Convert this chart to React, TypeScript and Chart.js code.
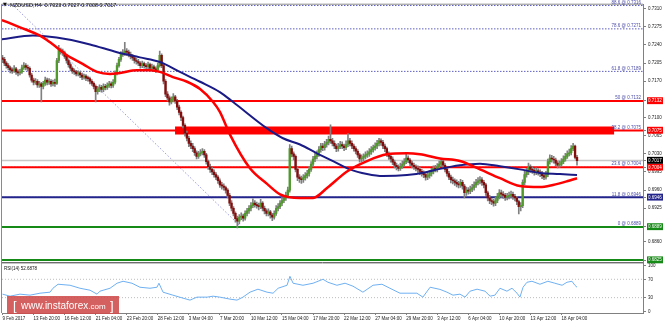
import React, { useEffect, useRef } from "react";
import { Chart, registerables } from "chart.js";

Chart.register(...registerables);

// ---------------- data ----------------
const xTickIdx = [0, 16, 32, 48, 64, 80, 96, 112, 128, 144, 160, 176, 192, 208, 224, 240, 256, 272, 288];
const xTickLabels = [
  "9 Feb 2017", "13 Feb 20:00", "16 Feb 12:00", "21 Feb 04:00", "23 Feb 20:00", "28 Feb 12:00",
  "3 Mar 04:00", "7 Mar 20:00", "10 Mar 12:00", "15 Mar 04:00", "17 Mar 20:00", "22 Mar 12:00",
  "27 Mar 04:00", "29 Mar 20:00", "3 Apr 12:00", "6 Apr 04:00", "10 Apr 20:00", "13 Apr 12:00", "18 Apr 04:00",
];

// H4 candles, prices in 1/10000
const opens = [
  7215,7212,7205,7200,7196,7192,7190,7194,7188,7186,
  7188,7196,7200,7197,7195,7182,7172,7168,7170,7163,
  7165,7160,7166,7172,7168,7170,7165,7168,7166,7210,
  7230,7228,7225,7218,7210,7202,7195,7190,7188,7184,
  7186,7182,7178,7180,7176,7175,7170,7166,7160,7150,
  7155,7158,7154,7160,7158,7162,7165,7162,7168,7185,
  7200,7212,7222,7225,7228,7226,7222,7218,7215,7210,
  7208,7205,7200,7204,7200,7198,7202,7195,7198,7194,
  7192,7200,7220,7200,7170,7145,7138,7130,7135,7140,
  7132,7120,7110,7100,7085,7070,7060,7050,7045,7040,
  7032,7025,7030,7032,7035,7028,7015,7005,7000,6995,
  6990,6985,6978,6970,6968,6965,6960,6950,6935,6925,
  6915,6905,6900,6908,6910,6906,6915,6920,6925,6930,
  6935,6932,6930,6928,6935,6925,6920,6915,6918,6912,
  6908,6915,6925,6928,6935,6940,6945,6950,6960,7040,
  7030,7025,7000,6985,6982,6980,6984,6988,6992,7000,
  7010,7020,7025,7030,7038,7045,7042,7048,7052,7058,
  7055,7050,7045,7040,7044,7048,7045,7042,7048,7055,
  7050,7045,7040,7035,7028,7020,7022,7025,7028,7030,
  7034,7038,7042,7045,7050,7055,7052,7045,7040,7030,
  7025,7020,7014,7008,7005,7002,7006,7010,7015,7022,
  7018,7012,7008,7005,7002,7000,6996,6993,6990,6985,
  6988,6992,6996,7002,7000,7005,7010,7015,7008,7000,
  6992,6985,6980,6978,6975,6972,6970,6975,6968,6955,
  6960,6958,6962,6965,6970,6975,6978,6980,6975,6970,
  6955,6945,6940,6938,6935,6940,6948,6955,6952,6950,
  6946,6948,6950,6952,6948,6945,6938,6928,6930,6975,
  6990,6995,7005,7000,6998,6995,6997,6995,6992,6988,
  6985,6990,7015,7022,7020,7018,7012,7008,7010,7015,
  7020,7025,7030,7032,7040,7045,7023,
];
const highs = [
  7220,7216,7208,7204,7199,7196,7200,7197,7192,7193,
  7201,7206,7204,7201,7198,7185,7176,7175,7173,7170,
  7168,7170,7178,7176,7175,7173,7172,7174,7214,7239,
  7234,7232,7228,7222,7213,7206,7198,7194,7191,7190,
  7189,7185,7184,7183,7180,7178,7173,7169,7163,7160,
  7163,7162,7165,7164,7167,7170,7169,7173,7190,7205,
  7216,7227,7231,7245,7233,7230,7226,7222,7218,7214,
  7212,7208,7209,7207,7204,7207,7205,7203,7201,7198,
  7205,7228,7223,7203,7173,7150,7142,7140,7146,7143,
  7135,7124,7113,7103,7088,7074,7064,7055,7050,7044,
  7036,7035,7038,7040,7038,7031,7018,7010,7004,6999,
  6994,6988,6982,6975,6972,6968,6963,6954,6940,6928,
  6918,6910,6913,6916,6914,6920,6925,6930,6936,6943,
  6940,6937,6935,6942,6938,6929,6924,6924,6921,6915,
  6920,6930,6934,6940,6946,6950,6956,6966,7048,7045,
  7034,7028,7004,6990,6987,6990,6994,6998,7006,7015,
  7025,7031,7036,7044,7050,7050,7054,7058,7064,7086,
  7060,7055,7049,7050,7054,7053,7049,7055,7069,7060,
  7055,7049,7044,7038,7031,7028,7030,7034,7036,7040,
  7044,7047,7051,7056,7060,7059,7056,7049,7043,7034,
  7029,7024,7018,7012,7009,7012,7016,7021,7030,7026,
  7021,7016,7012,7009,7007,7004,7000,6997,6994,6993,
  6998,7002,7007,7008,7011,7016,7021,7019,7011,7004,
  6996,6989,6985,6982,6980,6977,6981,6979,6971,6966,
  6965,6968,6971,6976,6981,6984,6986,6984,6979,6973,
  6958,6950,6944,6942,6946,6954,6961,6960,6957,6954,
  6954,6956,6958,6956,6952,6948,6941,6936,6980,6996,
  7002,7012,7009,7005,7002,7003,7001,6999,6996,6993,
  6996,7020,7028,7027,7025,7022,7016,7016,7021,7026,
  7031,7036,7039,7046,7050,7047,7027,
];
const lows = [
  7206,7200,7195,7192,7186,7185,7187,7183,7180,7182,
  7185,7193,7192,7190,7178,7168,7163,7164,7158,7158,
  7130,7155,7162,7163,7164,7160,7161,7160,7164,7206,
  7222,7220,7214,7205,7197,7190,7185,7183,7180,7180,
  7177,7173,7174,7171,7170,7165,7162,7155,7130,7145,
  7150,7149,7150,7153,7154,7158,7157,7158,7165,7182,
  7197,7208,7218,7220,7220,7217,7213,7210,7205,7203,
  7200,7195,7196,7195,7193,7194,7190,7191,7189,7187,
  7189,7197,7196,7165,7140,7132,7124,7126,7130,7127,
  7115,7105,7094,7080,7064,7055,7044,7040,7034,7027,
  7020,7021,7026,7028,7023,7010,7000,6994,6990,6985,
  6980,6973,6965,6962,6960,6954,6945,6930,6920,6910,
  6898,6887,6895,6903,6900,6902,6910,6915,6920,6926,
  6927,6925,6922,6924,6920,6914,6910,6910,6906,6901,
  6904,6911,6920,6924,6930,6936,6940,6946,6956,7024,
  7018,6995,6978,6975,6973,6975,6979,6983,6987,6996,
  7005,7015,7020,7025,7033,7036,7037,7043,7047,7050,
  7045,7040,7034,7035,7040,7040,7036,7038,7044,7045,
  7040,7035,7030,7023,7014,7015,7017,7020,7023,7025,
  7029,7033,7037,7040,7045,7046,7040,7034,7025,7019,
  7014,7009,7003,6999,6997,6998,7002,7006,7011,7013,
  7007,7003,7000,6997,6994,6990,6987,6984,6979,6980,
  6983,6987,6991,6995,6995,7000,7005,7003,6995,6987,
  6980,6974,6972,6969,6966,6964,6965,6962,6945,6950,
  6952,6953,6957,6960,6965,6970,6972,6969,6964,6950,
  6939,6934,6932,6929,6930,6936,6943,6946,6944,6940,
  6941,6943,6945,6942,6939,6932,6914,6920,6926,6970,
  6985,6990,6994,6992,6989,6990,6989,6986,6982,6980,
  6981,6986,7010,7014,7012,7007,7003,7004,7006,7011,
  7016,7021,7026,7028,7036,7020,7008,
];
const closes = [
  7212,7205,7200,7196,7192,7190,7194,7188,7186,7188,
  7196,7200,7197,7195,7182,7172,7168,7170,7163,7165,
  7160,7166,7172,7168,7170,7165,7168,7166,7210,7230,
  7228,7225,7218,7210,7202,7195,7190,7188,7184,7186,
  7182,7178,7180,7176,7175,7170,7166,7160,7150,7155,
  7158,7154,7160,7158,7162,7165,7162,7168,7185,7200,
  7212,7222,7225,7228,7226,7222,7218,7215,7210,7208,
  7205,7200,7204,7200,7198,7202,7195,7198,7194,7192,
  7200,7220,7200,7170,7145,7138,7130,7135,7140,7132,
  7120,7110,7100,7085,7070,7060,7050,7045,7040,7032,
  7025,7030,7032,7035,7028,7015,7005,7000,6995,6990,
  6985,6978,6970,6968,6965,6960,6950,6935,6925,6915,
  6905,6900,6908,6910,6906,6915,6920,6925,6930,6935,
  6932,6930,6928,6935,6925,6920,6915,6918,6912,6908,
  6915,6925,6928,6935,6940,6945,6950,6960,7040,7030,
  7025,7000,6985,6982,6980,6984,6988,6992,7000,7010,
  7020,7025,7030,7038,7045,7042,7048,7052,7058,7055,
  7050,7045,7040,7044,7048,7045,7042,7048,7055,7050,
  7045,7040,7035,7028,7020,7022,7025,7028,7030,7034,
  7038,7042,7045,7050,7055,7052,7045,7040,7030,7025,
  7020,7014,7008,7005,7002,7006,7010,7015,7022,7018,
  7012,7008,7005,7002,7000,6996,6993,6990,6985,6988,
  6992,6996,7002,7000,7005,7010,7015,7008,7000,6992,
  6985,6980,6978,6975,6972,6970,6975,6968,6955,6960,
  6958,6962,6965,6970,6975,6978,6980,6975,6970,6955,
  6945,6940,6938,6935,6940,6948,6955,6952,6950,6946,
  6948,6950,6952,6948,6945,6938,6928,6930,6975,6990,
  6995,7005,7000,6998,6995,6997,6995,6992,6988,6985,
  6990,7015,7022,7020,7018,7012,7008,7010,7015,7020,
  7025,7030,7032,7040,7045,7023,7017,
];

// moving averages (bar index, price in 1/10000)
const maRedX = [-0.3, 9, 19.3, 24.5, 33.2, 41.5, 48.7, 55.4, 60.5, 69.3, 76, 81.1, 87.8, 95.1, 101.8, 108.5, 112, 117.2, 127.5, 136.3, 143, 153.3, 160, 167.2, 177.5, 187.8, 198.1, 208.4, 215.1, 225.4, 235.7, 246, 256.3, 266.6, 276.9, 283.6, 290.8, 296];
const maRedY = [7288, 7274, 7258, 7245, 7220, 7203, 7188, 7184, 7186, 7191, 7191, 7188, 7178, 7169, 7155, 7130, 7111, 7067, 7002, 6972, 6952, 6945, 6945, 6964, 6996, 7016, 7029, 7031, 7029, 7021, 7016, 7000, 6983, 6968, 6966, 6970, 6977, 6983];
const maNavyX = [-0.3, 15.7, 33.2, 45.1, 59, 70.8, 81.1, 91.4, 101.8, 112, 118.8, 136.3, 144.5, 153.3, 162, 170.3, 179, 187.8, 196, 208.4, 218.7, 225.4, 235.7, 246, 256.3, 266.6, 276.9, 287.2, 296];
const maNavyY = [7251, 7258, 7251, 7241, 7226, 7216, 7207, 7188, 7169, 7149, 7130, 7079, 7060, 7048, 7031, 7016, 7000, 6991, 6987, 6989, 6995, 7001, 7008, 7011, 7006, 7000, 6993, 6991, 6989];

// RSI(14)
const rsiX = [0, 3.9, 9, 14.2, 19.3, 24.5, 26, 28.6, 34.8, 39.9, 45.1, 48.7, 50.2, 55.4, 59, 62.1, 66.7, 70.8, 76, 79.6, 80.6, 82.7, 87.8, 93, 96.6, 100.2, 105.4, 108.5, 112, 117.2, 120.8, 123.9, 127.5, 131.6, 136.3, 139.4, 142, 146.6, 148.1, 149.7, 154.8, 160, 165.1, 167.7, 172.3, 176.5, 180.6, 185.7, 190.9, 195.5, 199.6, 204.8, 208.9, 213.5, 216.6, 220.3, 225.4, 229, 232.1, 235.7, 238.3, 240.9, 244.5, 248.6, 251.2, 253.7, 256.3, 259.9, 262.5, 265.1, 266.6, 268.2, 270.2, 272.8, 276.9, 281, 284.6, 288.3, 290.8, 293.4, 294.9, 296];
const rsiY = [37.6, 33.2, 37.6, 35.4, 39.7, 41.9, 50.5, 59.2, 57.0, 50.5, 46.2, 37.6, 44.1, 50.5, 61.4, 65.7, 61.4, 52.7, 50.5, 52.7, 61.4, 41.9, 35.4, 28.9, 24.6, 31.1, 31.1, 33.2, 31.1, 26.8, 24.6, 31.1, 41.9, 48.4, 41.9, 39.7, 50.5, 57, 76.5, 61.4, 57, 61.4, 70, 63.5, 57, 61.4, 54.9, 41.9, 57, 59.2, 50.5, 39.7, 39.7, 39.7, 31.1, 52.7, 48, 41.9, 35.4, 37.6, 31.1, 44.1, 48.4, 44.1, 33.2, 35.4, 50.5, 44.1, 50.5, 39.7, 31.1, 52.7, 63.5, 65.7, 59.2, 65.7, 61.4, 57, 63.5, 65.7, 57, 52.7];
const rsiTicks = [0, 30, 70, 100];
const rsiLevels = [70, 30];

// price axis
const priceTicks = [0.7310, 0.7275, 0.7240, 0.7205, 0.7170, 0.7100, 0.7065, 0.7030, 0.6995, 0.6960, 0.6925, 0.6860];
const levelPrices = [0.7132, 0.7075, 0.7017, 0.7004, 0.6946, 0.6889, 0.6825];

// fibonacci retracement
const fibPcts = [88.6, 78.6, 61.8, 50, 38.2, 23.6, 11.8, 0];
const fibPrices = [0.7316, 0.7271, 0.7189, 0.7132, 0.7075, 0.7004, 0.6946, 0.6889];
const fibAnchorX = [-10.6, 122.9];
const fibAnchorY = [0.7375, 0.6889];

// resistance zone
const zoneX = [88.9, 315.1];
const zonePrice = 0.7075;

const headerText = "NZDUSD,H4  0.7023 0.7027 0.7008 0.7017";
const rsiTitle = "RSI(14) 52.6878";

// ---------------- styles ----------------
const X_MIN = -0.26;
const X_MAX = 330;
const Y_MIN = 0.68205;
const Y_MAX = 0.73176;
const RSI_MIN = -3.46;
const RSI_MAX = 106.7;
const FONT = '"Liberation Sans", Arial, sans-serif';
const LEVEL_LINE = ["#ff0000", "#ff0000", "#c8c8c8", "#ff0000", "#23238c", "#168a16", "#168a16"];
const LEVEL_BG = ["#ff0000", "#ff0000", "#000000", "#ff0000", "#23238c", "#168a16", "#168a16"];
const BULL = "#4f9a2a";
const BEAR = "#840c0c";
const WICK = "#808080";

const levelIdx = (v: any) => {
  if (v === undefined || v === null) return -1;
  return levelPrices.findIndex((p) => Math.abs(p - v) < 1e-7);
};

const overlayPlugin = {
  id: "overlay",
  afterDraw(chart: any) {
    const { ctx, chartArea, scales } = chart;
    const y = scales.y;
    ctx.save();
    // frame
    ctx.strokeStyle = "#8a8a8a";
    ctx.lineWidth = 1;
    ctx.beginPath();
    ctx.moveTo(chartArea.left - 0.5, chartArea.bottom);
    ctx.lineTo(chartArea.left - 0.5, chartArea.top - 0.5);
    ctx.lineTo(chartArea.right, chartArea.top - 0.5);
    ctx.stroke();
    // panel separator
    ctx.strokeStyle = "#6e6e6e";
    ctx.beginPath();
    ctx.moveTo(chartArea.left, Math.round(y.bottom) + 0.5);
    ctx.lineTo(chartArea.right, Math.round(y.bottom) + 0.5);
    ctx.stroke();
    ctx.strokeStyle = "#c4c4c4";
    ctx.beginPath();
    ctx.moveTo(chartArea.left, Math.round(y.bottom) + 1.5);
    ctx.lineTo(chartArea.right, Math.round(y.bottom) + 1.5);
    ctx.stroke();

    // fib labels
    ctx.font = `4.5px ${FONT}`;
    ctx.fillStyle = "#4d4da6";
    ctx.textAlign = "right";
    ctx.textBaseline = "bottom";
    fibPcts.forEach((p, k) => {
      ctx.fillText(`${p} @ ${fibPrices[k].toFixed(4)}`, chartArea.right - 2, y.getPixelForValue(fibPrices[k]) - 0.8);
    });

    // header
    ctx.textAlign = "left";
    ctx.textBaseline = "middle";
    ctx.fillStyle = "#111";
    ctx.font = `5px "DejaVu Sans", sans-serif`;
    ctx.fillText("\u25BC", 3, 5);
    ctx.font = `5.5px ${FONT}`;
    ctx.fillText(headerText, 10, 5);

    // RSI title
    const r = scales.rsi;
    ctx.font = `4.5px ${FONT}`;
    ctx.fillText(rsiTitle, 4, r.top + 6);

    // watermark
    ctx.fillStyle = "rgba(207,74,74,0.88)";
    ctx.fillRect(7, 296, 112, 18);
    ctx.fillStyle = "#ffffff";
    ctx.textBaseline = "alphabetic";
    ctx.font = `13px ${FONT}`;
    ctx.fillText("[", 13, 310);
    ctx.font = `10px ${FONT}`;
    ctx.fillText("www.instaforex", 21, 309);
    const w = ctx.measureText("www.instaforex").width;
    ctx.font = `8px ${FONT}`;
    ctx.fillText(".com", 21 + w, 309);
    ctx.font = `13px ${FONT}`;
    ctx.fillText("]", 110, 310);
    ctx.restore();
  },
};

export default function App() {
  const ref = useRef<HTMLCanvasElement | null>(null);

  useEffect(() => {
    document.body.style.margin = "0";
    const canvas = ref.current;
    if (!canvas) return;

    const wickData = closes.map((_, i) => ({ x: i, y: [lows[i] / 1e4, highs[i] / 1e4] }));
    const bodyData = closes.map((c, i) => ({ x: i, y: [Math.min(opens[i], c) / 1e4, Math.max(opens[i], c) / 1e4] }));
    const bodyColors = closes.map((c, i) => (c >= opens[i] ? BULL : BEAR));

    const hLine = (v: number) => [{ x: X_MIN, y: v }, { x: X_MAX, y: v }];

    const datasets: any[] = [];

    // RSI
    datasets.push({
      type: "line", yAxisID: "rsi", order: 1,
      data: rsiX.map((x, i) => ({ x, y: rsiY[i] })),
      borderColor: "#6fb0f2", borderWidth: 1, pointRadius: 0, tension: 0,
    });
    rsiLevels.forEach((v) => {
      datasets.push({
        type: "line", yAxisID: "rsi", order: 12,
        data: [{ x: X_MIN, y: v }, { x: X_MAX, y: v }],
        borderColor: "#bdbdbd", borderWidth: 1, borderDash: [1, 2], pointRadius: 0,
      });
    });

    // MAs
    datasets.push({
      type: "line", yAxisID: "y", order: 2,
      data: maRedX.map((x, i) => ({ x, y: maRedY[i] / 1e4 })),
      borderColor: "#ff0000", borderWidth: 2.5, pointRadius: 0, cubicInterpolationMode: "monotone",
    });
    datasets.push({
      type: "line", yAxisID: "y", order: 3,
      data: maNavyX.map((x, i) => ({ x, y: maNavyY[i] / 1e4 })),
      borderColor: "#1b1b86", borderWidth: 2, pointRadius: 0, cubicInterpolationMode: "monotone",
    });

    // candles
    datasets.push({
      type: "bar", yAxisID: "y", order: 5, grouped: false,
      data: bodyData, backgroundColor: bodyColors, barThickness: 1.7, minBarLength: 1, borderWidth: 0,
    });
    datasets.push({
      type: "bar", yAxisID: "y", order: 6, grouped: false,
      data: wickData, backgroundColor: WICK, barThickness: 1, borderWidth: 0,
    });

    // zone
    datasets.push({
      type: "line", yAxisID: "y", order: 7,
      data: [{ x: zoneX[0], y: zonePrice }, { x: zoneX[1], y: zonePrice }],
      borderColor: "#ff0000", borderWidth: 8, borderCapStyle: "butt", pointRadius: 0,
    });

    // level lines
    levelPrices.forEach((v, k) => {
      datasets.push({
        type: "line", yAxisID: "y", order: 8,
        data: hLine(v),
        borderColor: LEVEL_LINE[k], borderWidth: k === 2 ? 1.5 : 2, pointRadius: 0,
      });
    });

    // fib levels + trend line
    fibPrices.forEach((v) => {
      datasets.push({
        type: "line", yAxisID: "y", order: 10,
        data: hLine(v),
        borderColor: "#5f5fc0", borderWidth: 1, borderDash: [1.5, 1.5], pointRadius: 0,
      });
    });
    datasets.push({
      type: "line", yAxisID: "y", order: 11,
      data: fibAnchorX.map((x, i) => ({ x, y: fibAnchorY[i] })),
      borderColor: "#9a9ade", borderWidth: 1, borderDash: [1.5, 2], pointRadius: 0,
    });

    const tickFont = { size: 4.5, family: FONT };

    const chart = new Chart(canvas, {
      type: "bar",
      data: { datasets },
      plugins: [overlayPlugin],
      options: {
        responsive: false,
        animation: false,
        devicePixelRatio: 1,
        layout: { padding: { left: 2, top: 2, right: 0, bottom: 0 } },
        plugins: { legend: { display: false }, tooltip: { enabled: false } },
        scales: {
          x: {
            type: "linear", position: "bottom", min: X_MIN, max: X_MAX, offset: false,
            afterFit: (s: any) => { s.height = 9; },
            afterBuildTicks: (s: any) => { s.ticks = xTickIdx.map((v) => ({ value: v })); },
            grid: { display: true, drawOnChartArea: false, drawTicks: true, tickLength: 2, color: "#808080", offset: false },
            border: { display: true, color: "#808080" },
            ticks: {
              autoSkip: false, maxRotation: 0, minRotation: 0, align: "start", padding: 1,
              font: tickFont, color: "#222",
              callback: (v: any) => xTickLabels[xTickIdx.indexOf(Number(v))] ?? "",
            },
          },
          y: {
            type: "linear", position: "right", stack: "pane", stackWeight: 260,
            min: Y_MIN, max: Y_MAX,
            afterFit: (s: any) => { s.width = 20; },
            afterBuildTicks: (s: any) => {
              s.ticks = [...priceTicks, ...levelPrices].sort((a, b) => a - b).map((v) => ({ value: v }));
            },
            grid: { display: true, drawOnChartArea: false, drawTicks: true, tickLength: 3, color: "#808080" },
            border: { display: true, color: "#808080" },
            ticks: {
              autoSkip: false, padding: 2, font: tickFont,
              callback: (v: any) => Number(v).toFixed(4),
              color: (c: any) => (levelIdx(c.tick && c.tick.value) >= 0 ? "#ffffff" : "#222"),
              showLabelBackdrop: (c: any) => levelIdx(c.tick && c.tick.value) >= 0,
              backdropColor: (c: any) => {
                const k = levelIdx(c.tick && c.tick.value);
                return k >= 0 ? LEVEL_BG[k] : "rgba(0,0,0,0)";
              },
              backdropPadding: { top: 1, bottom: 0.5, left: 1, right: 6 },
            },
          },
          rsi: {
            type: "linear", position: "right", stack: "pane", stackWeight: 51,
            min: RSI_MIN, max: RSI_MAX,
            afterFit: (s: any) => { s.width = 20; },
            afterBuildTicks: (s: any) => { s.ticks = rsiTicks.map((v) => ({ value: v })); },
            grid: { display: true, drawOnChartArea: false, drawTicks: true, tickLength: 3, color: "#808080" },
            border: { display: true, color: "#808080" },
            ticks: { autoSkip: false, padding: 2, font: tickFont, color: "#222", callback: (v: any) => String(v) },
          },
        },
      } as any,
    } as any);

    return () => chart.destroy();
  }, []);

  return (
    <canvas
      ref={ref}
      width={663}
      height={322}
      style={{ display: "block", position: "absolute", left: 0, top: 0, width: 663, height: 322 }}
    />
  );
}
